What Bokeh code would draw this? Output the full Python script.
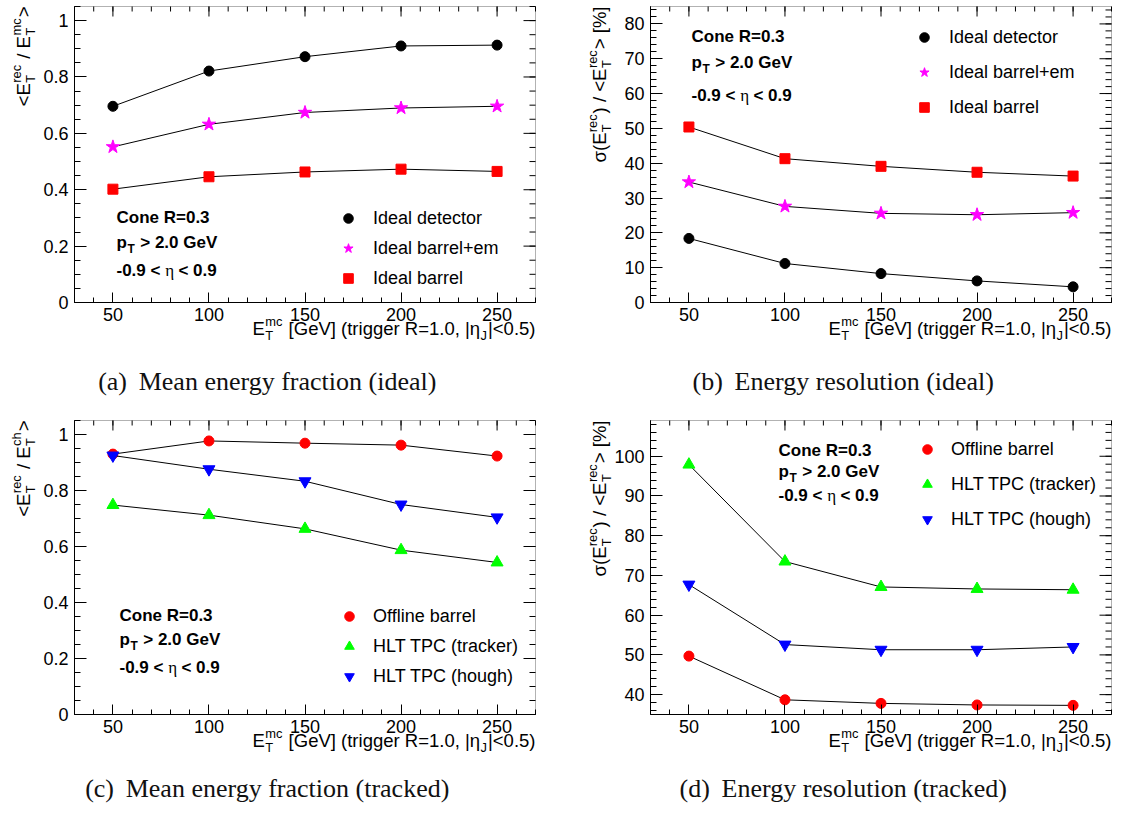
import math
from bokeh.plotting import figure
from bokeh.models import Range1d, LinearAxis, FixedTicker, Label, Legend, LegendItem, BoxAnnotation
from bokeh.layouts import column, row
from bokeh.embed import file_html
from bokeh.resources import INLINE

# ---------------- data ----------------
energy = [50, 100, 150, 200, 250]

# (a) mean energy fraction, ideal
frac_ideal_detector = [0.696, 0.821, 0.872, 0.910, 0.913]
frac_ideal_barrel_em = [0.552, 0.632, 0.674, 0.690, 0.696]
frac_ideal_barrel = [0.402, 0.446, 0.463, 0.473, 0.465]

# (b) energy resolution, ideal [%]
res_ideal_detector = [18.4, 11.2, 8.3, 6.2, 4.5]
res_ideal_barrel_em = [34.6, 27.6, 25.6, 25.2, 25.8]
res_ideal_barrel = [50.4, 41.3, 39.1, 37.4, 36.3]

# (c) mean energy fraction, tracked
frac_offline = [0.930, 0.977, 0.969, 0.962, 0.923]
frac_hlt_tracker = [0.748, 0.712, 0.663, 0.587, 0.543]
frac_hlt_hough = [0.925, 0.876, 0.833, 0.750, 0.704]

# (d) energy resolution, tracked [%]
res_offline = [49.7, 38.7, 37.8, 37.4, 37.3]
res_hlt_tracker = [97.9, 73.5, 67.1, 66.6, 66.4]
res_hlt_hough = [67.7, 52.6, 51.3, 51.3, 52.0]

ideal_labels = ["Ideal detector", "Ideal barrel+em", "Ideal barrel"]
tracked_labels = ["Offline barrel", "HLT TPC (tracker)", "HLT TPC (hough)"]
captions = [("(a)", "Mean energy fraction (ideal)"), ("(b)", "Energy resolution (ideal)"),
            ("(c)", "Mean energy fraction (tracked)"), ("(d)", "Energy resolution (tracked)")]

x_lim = (30, 270)
x_ticks = [50, 100, 150, 200, 250]
x_tick_labels = ["50", "100", "150", "200", "250"]
x_minor = list(range(30, 271, 10))
frac_lim = (0, 1.05)
frac_ticks = [0, 0.2, 0.4, 0.6, 0.8, 1.0]
frac_tick_labels = ["0", "0.2", "0.4", "0.6", "0.8", "1"]
frac_minor = [round(i * 0.05, 2) for i in range(22)]
resi_lim = (0, 85)
resi_ticks = [0, 10, 20, 30, 40, 50, 60, 70, 80]
resi_tick_labels = ["0", "10", "20", "30", "40", "50", "60", "70", "80"]
resi_minor = list(range(0, 86, 2))
rest_lim = (35, 109)
rest_ticks = [40, 50, 60, 70, 80, 90, 100]
rest_tick_labels = ["40", "50", "60", "70", "80", "90", "100"]
rest_minor = list(range(36, 110, 2))

FONT = "Liberation Sans"
SERIF = "Liberation Serif"
TITLE_SIZE = 18.5
KFIX = 0.35  # label anchor sits at mid-cap height; shift so that y is the baseline

SANS_W = {' ': 278, '%': 889, '(': 333, ')': 333, ',': 278, '-': 333, '.': 278, '/': 278,
          '<': 584, '=': 584, '>': 584, '[': 278, ']': 278, '|': 260, '+': 584,
          'C': 722, 'E': 667, 'G': 778, 'H': 722, 'I': 278, 'J': 500, 'L': 556, 'O': 778,
          'P': 667, 'R': 722, 'T': 611, 'V': 667,
          'a': 556, 'b': 556, 'c': 500, 'd': 556, 'e': 556, 'f': 278, 'g': 556, 'h': 556,
          'i': 222, 'k': 500, 'l': 222, 'm': 833, 'n': 556, 'o': 556, 'p': 556, 'r': 333,
          's': 500, 't': 278, 'u': 556, 'y': 500, '\u03b7': 556, '\u03c3': 600}
BOLD_W = dict(SANS_W)
BOLD_W.update({'n': 611, 'o': 611, 'p': 611, 'r': 389, 'h': 611, '\u03b7': 611})
SERIF_W = {' ': 250, '(': 333, ')': 333, 'E': 611, 'M': 889, 'a': 444, 'b': 500, 'c': 444,
           'd': 500, 'e': 444, 'f': 333, 'g': 500, 'i': 278, 'k': 500, 'l': 278, 'n': 500,
           'o': 500, 'r': 333, 's': 389, 't': 278, 'u': 500, 'y': 500, '\u03b7': 500}


def tw(s, size, table):
    return sum(table.get(c, 556) for c in s) * size / 1000.0


def add_label(p, txt, x, y, fs, font, style, angle=0.0, color="black"):
    if angle == 0.0:
        y = y + KFIX * fs
    else:
        x = x - KFIX * fs
    lab = Label(x=x, y=y, x_units="screen", y_units="screen", text=txt, angle=angle)
    lab.text_font = font
    lab.text_font_style = style
    lab.text_font_size = "%.1fpx" % fs
    lab.text_color = color
    lab.text_align = "left"
    lab.text_baseline = "alphabetic"
    p.add_layout(lab)


def rich(p, parts, x, y, size, vertical=False, anchor="start", font=FONT, style="normal",
         table=SANS_W):
    """parts: ("n", text[, font, style, table]) or ("s", sub, sup)."""
    ss = 0.7 * size
    widths = []
    for part in parts:
        if part[0] == "n":
            tb = part[4] if len(part) > 4 else table
            widths.append(tw(part[1], size, tb))
        else:
            widths.append(max(tw(part[1], ss, table), tw(part[2], ss, table)) + 0.08 * size)
    total = sum(widths)
    pos = (y if vertical else x) - (total if anchor == "end" else 0)
    for part, w in zip(parts, widths):
        if part[0] == "n":
            f = part[2] if len(part) > 2 else font
            st = part[3] if len(part) > 3 else style
            tb = part[4] if len(part) > 4 else table
            raw = part[1]
            lead = len(raw) - len(raw.lstrip(' '))
            items = [(raw.strip(' '), 0.0, size, f, st, tw(' ' * lead, size, tb))]
        else:
            items = [(part[1], -0.3 * size, ss, font, style, 0.03 * size),
                     (part[2], 0.48 * size, ss, font, style, 0.03 * size)]
        for txt, dy, fs, f, st, dx in items:
            if not txt:
                continue
            if vertical:
                add_label(p, txt, x - dy, pos + dx, fs, f, st, angle=math.pi / 2)
            else:
                add_label(p, txt, pos + dx, y + dy, fs, f, st)
        pos += w


def style_axis(ax, ticks, labels, standoff, major, minor):
    ax.axis_line_color = "black"
    ax.axis_line_width = 1
    ax.major_tick_in = major
    ax.major_tick_out = 0
    ax.minor_tick_in = minor
    ax.minor_tick_out = 0
    ax.major_tick_line_color = "black"
    ax.minor_tick_line_color = "black"
    ax.major_label_overrides = {t: l for t, l in zip(ticks, labels)}
    ax.major_label_text_font = FONT
    ax.major_label_text_font_size = "18px"
    ax.major_label_text_color = "black"
    ax.major_label_standoff = standoff


XMAJ, XMIN = 10, 5     # tick lengths on the horizontal edges (px)
YMAJ, YMIN = 12, 6     # tick lengths on the vertical edges (px)


class Panel:
    def __init__(self, W, H, box, ylim, yt, ytl, ymin):
        L, T, R, B = box
        self.L, self.T, self.R, self.B, self.W, self.H = L, T, R, B, W, H
        x0, x1 = x_lim
        y0, y1 = ylim
        sx = (x1 - x0) / (R - L)
        sy = (y1 - y0) / (B - T)
        p = figure(width=W, height=H,
                   x_range=Range1d(x0 - L * sx, x1 + (W - R) * sx),
                   y_range=Range1d(y0 - (H - B) * sy, y1 + T * sy),
                   output_backend="svg", toolbar_location=None,
                   x_axis_type=None, y_axis_type=None,
                   min_border_left=0, min_border_right=0, min_border_top=0, min_border_bottom=0)
        p.background_fill_color = "white"
        p.border_fill_color = "white"
        p.outline_line_color = None
        xa = LinearAxis(ticker=FixedTicker(ticks=x_ticks, minor_ticks=x_minor),
                        fixed_location=y0, bounds=(x0, x1))
        style_axis(xa, x_ticks, x_tick_labels, 5, XMAJ, XMIN)
        p.add_layout(xa, "below")
        ya = LinearAxis(ticker=FixedTicker(ticks=yt, minor_ticks=ymin),
                        fixed_location=x0, bounds=(y0, y1))
        style_axis(ya, yt, ytl, 6, YMAJ, YMIN)
        p.add_layout(ya, "left")
        p.add_layout(BoxAnnotation(left=x0, right=x1, bottom=y0, top=y1, fill_alpha=0,
                                   line_color="black", line_width=1))
        # mirrored ticks on the top and right frame edges
        p.segment(x0=x_ticks, y0=[y1] * len(x_ticks), x1=x_ticks,
                  y1=[y1 - XMAJ * sy] * len(x_ticks), line_color="black", line_width=1)
        p.segment(x0=x_minor, y0=[y1] * len(x_minor), x1=x_minor,
                  y1=[y1 - XMIN * sy] * len(x_minor), line_color="black", line_width=1)
        p.segment(x0=[x1] * len(yt), y0=yt, x1=[x1 - YMAJ * sx] * len(yt), y1=yt,
                  line_color="black", line_width=1)
        p.segment(x0=[x1] * len(ymin), y0=ymin, x1=[x1 - YMIN * sx] * len(ymin), y1=ymin,
                  line_color="black", line_width=1)
        self.p = p
        # x axis title, right aligned at the frame end
        rich(p, [("n", "E"), ("s", "T", "mc"), ("n", " [GeV] (trigger R=1.0, |\u03b7"),
                 ("s", "J", ""), ("n", "|<0.5)")],
             R, (H - B) - 32, TITLE_SIZE, anchor="end")

    def cx(self, xr):
        return self.L + xr

    def cy(self, yr):
        return (self.H - self.B) + yr

    def series(self, ys, marker, color, size):
        self.p.line(energy, ys, line_color="black", line_width=1)
        return self.p.scatter(energy, ys, marker=marker, size=size, fill_color=color,
                              line_color=color)

    def legend(self, rends, labels, xr, yr, spacing, standoff):
        lg = Legend(items=[LegendItem(label=l, renderers=[r]) for r, l in zip(rends, labels)],
                    location=(self.cx(xr), self.cy(yr)), orientation="vertical", padding=0,
                    margin=0, spacing=spacing, glyph_width=24, glyph_height=30, label_height=30,
                    label_standoff=standoff, label_text_font=FONT, label_text_font_size="18px",
                    label_text_color="black", border_line_alpha=0, background_fill_alpha=0)
        self.p.add_layout(lg)

    def info(self, xr, ys):
        p = self.p
        x = self.cx(xr)
        rich(p, [("n", "Cone R=0.3")], x, self.cy(ys[0]), 17, style="bold", table=BOLD_W)
        rich(p, [("n", "p"), ("s", "T", ""), ("n", " > 2.0 GeV")], x, self.cy(ys[1]), 17,
             style="bold", table=BOLD_W)
        rich(p, [("n", "-0.9 < "), ("n", "\u03b7", SERIF, "normal", SERIF_W), ("n", " < 0.9")],
             x, self.cy(ys[2]), 17, style="bold", table=BOLD_W)

    def ytitle(self, parts):
        rich(self.p, parts, self.L - 45, self.H - self.T, TITLE_SIZE, vertical=True,
             anchor="end")

    def caption(self, idx, base):
        tag, txt = captions[idx]
        size = 26
        gap = 0.45 * size
        total = tw(tag, size, SERIF_W) + gap + tw(txt, size, SERIF_W)
        x0 = self.cx(193) - total / 2
        y = self.cy(-base)
        add_label(self.p, tag, x0, y, size, SERIF, "normal", color="#111111")
        add_label(self.p, txt, x0 + tw(tag, size, SERIF_W) + gap, y, size, SERIF, "normal",
                  color="#111111")


def frac_title(top):
    return [("n", "<E"), ("s", "T", "rec"), ("n", " / E"), ("s", "T", top), ("n", ">")]


res_title = [("n", "\u03c3(E"), ("s", "T", "rec"), ("n", ") / <E"), ("s", "T", "rec"),
             ("n", "> [%]")]

# ---------------- panel (a) ----------------
A = Panel(560, 405, (74, 6, 535, 302), frac_lim, frac_ticks, frac_tick_labels, frac_minor)
ra = [A.series(frac_ideal_detector, "circle", "black", 10),
      A.series(frac_ideal_barrel_em, "star", "#ff00ff", 14),
      A.series(frac_ideal_barrel, "square", "#ff0000", 10)]
A.legend(ra, ideal_labels, 262, 9, 0, 13)
A.info(42, [79, 54, 26.3])
A.ytitle(frac_title("mc"))
A.caption(0, 88)

# ---------------- panel (b) ----------------
Bp = Panel(552, 405, (90, 6, 551, 302), resi_lim, resi_ticks, resi_tick_labels, resi_minor)
rb = [Bp.series(res_ideal_detector, "circle", "black", 10),
      Bp.series(res_ideal_barrel_em, "star", "#ff00ff", 14),
      Bp.series(res_ideal_barrel, "square", "#ff0000", 10)]
Bp.legend(rb, ideal_labels, 262, 180, 5, 13)
Bp.info(41, [260, 234, 201.3])
Bp.ytitle(res_title)
Bp.caption(1, 88)

# ---------------- panel (c) ----------------
C = Panel(560, 398, (74, 15, 535, 309), frac_lim, frac_ticks, frac_tick_labels, frac_minor)
rc = [C.series(frac_offline, "circle", "#ff0000", 10),
      C.series(frac_hlt_tracker, "triangle", "#00ff00", 12),
      C.series(frac_hlt_hough, "inverted_triangle", "#0000ff", 12)]
C.legend(rc, tracked_labels, 263, 23, 0, 12)
C.info(45, [93.3, 69.3, 40.7])
C.ytitle(frac_title("ch"))
C.caption(2, 83)

# ---------------- panel (d) ----------------
D = Panel(552, 398, (90, 15, 551, 309), rest_lim, rest_ticks, rest_tick_labels, rest_minor)
rd = [D.series(res_offline, "circle", "#ff0000", 10),
      D.series(res_hlt_tracker, "triangle", "#00ff00", 12),
      D.series(res_hlt_hough, "inverted_triangle", "#0000ff", 12)]
D.legend(rd, tracked_labels, 265, 180, 5, 12)
D.info(128, [258.3, 237.3, 212.7])
D.ytitle(res_title)
D.caption(3, 83)

layout = column(row(A.p, Bp.p), row(C.p, D.p))
open("out.html", "w").write(file_html(layout, INLINE))
